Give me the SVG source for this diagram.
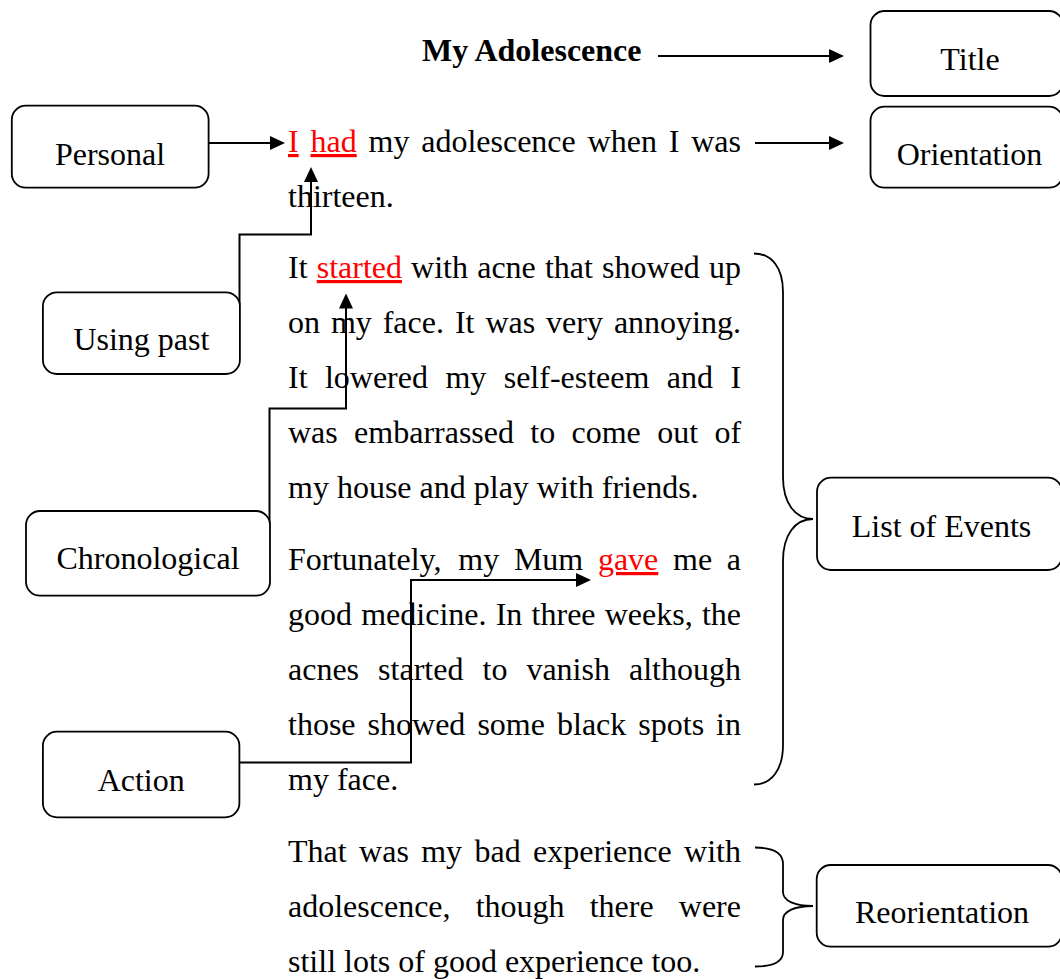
<svg xmlns="http://www.w3.org/2000/svg" width="1060" height="979" viewBox="0 0 1060 979">
<style>
.box{fill:#fff;stroke:#000;stroke-width:1.8}
.lbl{font-family:"Liberation Serif","Times New Roman",serif;font-size:32px;fill:#000;text-anchor:middle}
.body{font-family:"Liberation Serif","Times New Roman",serif;font-size:32px;fill:#000}
.ttl{font-family:"Liberation Serif","Times New Roman",serif;font-size:32px;font-weight:bold;fill:#000}
.red{fill:#ff0000;text-decoration:underline}
.conn{fill:none;stroke:#000;stroke-width:2}
.brace{fill:none;stroke:#000;stroke-width:1.8}
</style>
<defs>
<marker id="arr" viewBox="0 0 15 14" refX="5" refY="7" markerWidth="15" markerHeight="14" markerUnits="userSpaceOnUse" orient="auto">
<path d="M0,0 L15,7 L0,14 Z" fill="#000"/>
</marker>
</defs>
<rect width="1060" height="979" fill="#fff"/>

<g id="passage">
<text class="ttl" x="422" y="61">My Adolescence</text>
<text class="body" y="152"><tspan x="288" class="red">I</tspan><tspan x="310.5" class="red">had</tspan><tspan x="368.5">my</tspan><tspan x="421.2">adolescence</tspan><tspan x="587.6">when</tspan><tspan x="668.8">I</tspan><tspan x="691.2">was</tspan></text>
<text class="body" x="288" y="207">thirteen.</text>
<text class="body" y="278"><tspan x="288">It</tspan><tspan x="316.7" class="red">started</tspan><tspan x="411.1">with</tspan><tspan x="477.2">acne</tspan><tspan x="544.9">that</tspan><tspan x="602.1">showed</tspan><tspan x="709">up</tspan></text>
<text class="body" y="333"><tspan x="288">on</tspan><tspan x="330.9">my</tspan><tspan x="382.7">face.</tspan><tspan x="454.9">It</tspan><tspan x="485.4">was</tspan><tspan x="546.1">very</tspan><tspan x="613.9">annoying.</tspan></text>
<text class="body" y="388"><tspan x="288">It</tspan><tspan x="324.9">lowered</tspan><tspan x="445.4">my</tspan><tspan x="503.7">self-esteem</tspan><tspan x="666.8">and</tspan><tspan x="730.4">I</tspan></text>
<text class="body" y="443"><tspan x="288">was</tspan><tspan x="354.1">embarrassed</tspan><tspan x="530.3">to</tspan><tspan x="571.5">come</tspan><tspan x="657.2">out</tspan><tspan x="714.4">of</tspan></text>
<text class="body" x="288" y="498">my house and play with friends.</text>
<text class="body" y="570"><tspan x="288">Fortunately,</tspan><tspan x="458.3">my</tspan><tspan x="513.9">Mum</tspan><tspan x="597.9" class="red">gave</tspan><tspan x="673">me</tspan><tspan x="726.8">a</tspan></text>
<text class="body" y="625"><tspan x="288">good</tspan><tspan x="361.2">medicine.</tspan><tspan x="495.7">In</tspan><tspan x="531.6">three</tspan><tspan x="604.7">weeks,</tspan><tspan x="701.9">the</tspan></text>
<text class="body" y="680"><tspan x="288">acnes</tspan><tspan x="378.1">started</tspan><tspan x="482.5">to</tspan><tspan x="526.4">vanish</tspan><tspan x="629">although</tspan></text>
<text class="body" y="735"><tspan x="288">those</tspan><tspan x="367.6">showed</tspan><tspan x="477.4">some</tspan><tspan x="557">black</tspan><tspan x="638.3">spots</tspan><tspan x="716.1">in</tspan></text>
<text class="body" x="288" y="790">my face.</text>
<text class="body" y="862"><tspan x="288">That</tspan><tspan x="359.1">was</tspan><tspan x="421.2">my</tspan><tspan x="474.5">bad</tspan><tspan x="533.1">experience</tspan><tspan x="684.1">with</tspan></text>
<text class="body" y="917"><tspan x="288">adolescence,</tspan><tspan x="475.7">though</tspan><tspan x="589.7">there</tspan><tspan x="678.8">were</tspan></text>
<text class="body" x="288" y="972">still lots of good experience too.</text>
</g>

<g id="connectors">
<path class="conn" d="M658,56 H834" marker-end="url(#arr)"/>
<path class="conn" d="M755,143 H834" marker-end="url(#arr)"/>
<path class="conn" d="M208,143 H275" marker-end="url(#arr)"/>
<path class="conn" d="M239.5,305 V234.5 H311 V177" marker-end="url(#arr)"/>
<path class="conn" d="M269.5,525 V408.5 H346 V303.5" marker-end="url(#arr)"/>
<path class="conn" d="M239.5,762.5 H411 V580 H581" marker-end="url(#arr)"/>
<path class="brace" d="M754,253.5 C772,253.5 783,268 783,292 L783,477 C783,503 795,519 813,519 C795,519 783,535 783,561 L783,745 C783,769 772,784.5 754,784.5"/>
<path class="brace" d="M755,847.5 C772,847.5 783,852 783,864 L783,892 C783,901 795,906 813,906 C795,906 783,911 783,920 L783,952 C783,962 772,966.5 755,966.5"/>
</g>

<g id="node-title"><rect class="box" x="870.5" y="11" width="192.5" height="85" rx="14"/><text class="lbl" x="970" y="70">Title</text></g>
<g id="node-orientation"><rect class="box" x="870.5" y="106.7" width="192.5" height="81" rx="14"/><text class="lbl" x="969.5" y="165">Orientation</text></g>
<g id="node-personal"><rect class="box" x="11.8" y="105.7" width="196.8" height="82" rx="14"/><text class="lbl" x="110" y="165">Personal</text></g>
<g id="node-using-past"><rect class="box" x="42.9" y="292.3" width="197" height="81.7" rx="14"/><text class="lbl" x="141.4" y="350">Using past</text></g>
<g id="node-chronological"><rect class="box" x="26" y="511" width="244" height="84.7" rx="14"/><text class="lbl" x="148" y="569">Chronological</text></g>
<g id="node-action"><rect class="box" x="42.9" y="731.7" width="196.5" height="85.6" rx="14"/><text class="lbl" x="141.2" y="790.7">Action</text></g>
<g id="node-list-of-events"><rect class="box" x="817" y="477.7" width="245" height="92.3" rx="14"/><text class="lbl" x="941.5" y="536.7">List of Events</text></g>
<g id="node-reorientation"><rect class="box" x="816.7" y="865" width="245.3" height="81.7" rx="14"/><text class="lbl" x="942" y="923.3">Reorientation</text></g>
</svg>
